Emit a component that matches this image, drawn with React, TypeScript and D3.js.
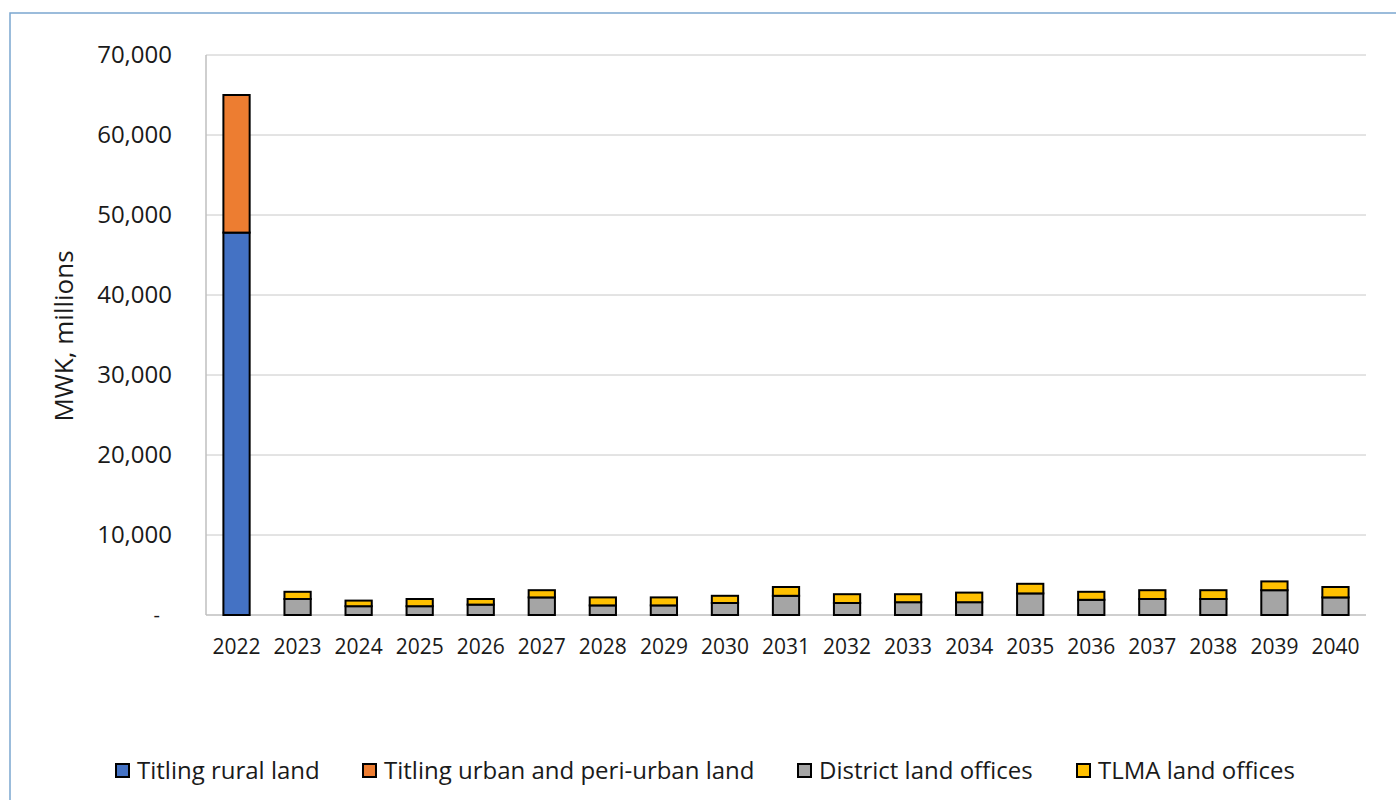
import React from "react";
import * as d3 from "d3";

const years = ["2022","2023","2024","2025","2026","2027","2028","2029","2030","2031","2032","2033","2034","2035","2036","2037","2038","2039","2040"];
const rural = [47800,0,0,0,0,0,0,0,0,0,0,0,0,0,0,0,0,0,0];
const urban = [17200,0,0,0,0,0,0,0,0,0,0,0,0,0,0,0,0,0,0];
const district = [0,2000,1100,1100,1300,2200,1200,1200,1500,2400,1500,1600,1600,2700,1900,2000,2000,3100,2200];
const tlma = [0,900,700,900,700,900,1000,1000,900,1100,1100,1000,1200,1200,1000,1100,1100,1100,1300];
const seriesNames = ["Titling rural land","Titling urban and peri-urban land","District land offices","TLMA land offices"];
const seriesColors = ["#4472C4","#ED7D31","#A5A5A5","#FFC000"];
const yTicks = [0,10000,20000,30000,40000,50000,60000,70000];

const W = 1396, H = 800;
const left = 206, right = 1366, top = 55, bottom = 615;
const font = "'Open Sans', 'Liberation Sans', sans-serif";

export default function App() {
  const x = d3.scaleBand<string>().domain(years).range([left, right]).paddingInner(0.57).paddingOuter(0.285);
  const y = d3.scaleLinear().domain([0, 70000]).range([bottom, top]);
  const rows = years.map((yr, i) => ({ yr, s0: rural[i], s1: urban[i], s2: district[i], s3: tlma[i] }));
  const stack = d3.stack<any>().keys(["s0","s1","s2","s3"]);
  const layers = stack(rows);
  const fmt = d3.format(",");
  const legendX = [116, 363, 798, 1077];
  return (
    <div style={{ position: "absolute", left: 0, top: 0 }}>
      <svg width={W} height={H} style={{ display: "block", fontFamily: font }}>
        <rect x={0} y={0} width={W} height={H} fill="#fff" />
        <rect x={10} y={13} width={W} height={H} fill="none" stroke="#7BA7CF" strokeWidth={1.5} />
        {yTicks.map(t => (
          <g key={t}>
            {t > 0 && <line x1={left} x2={right} y1={y(t)} y2={y(t)} stroke="#C8C8C8" strokeWidth={1} />}
            <text x={t === 0 ? 160 : 172} y={y(t)} dy="0.35em" textAnchor="end" fontSize={t === 0 ? 20 : 24} fill="#1a1a1a">
              {t === 0 ? "-" : fmt(t)}
            </text>
          </g>
        ))}
        <line x1={left} x2={left} y1={top} y2={bottom} stroke="#BFBFBF" strokeWidth={1.5} />
        <line x1={left} x2={right} y1={bottom} y2={bottom} stroke="#BFBFBF" strokeWidth={1.5} />
        {layers.map((layer, li) => (
          <g key={li}>
            {layer.map((d, i) => {
              const h = y(d[0]) - y(d[1]);
              if (h <= 0) return null;
              return (
                <rect key={i} x={x(years[i])} y={y(d[1])} width={x.bandwidth()} height={h}
                  fill={seriesColors[li]} stroke="#000" strokeWidth={2} />
              );
            })}
          </g>
        ))}
        {years.map(yr => (
          <text key={yr} x={(x(yr) as number) + x.bandwidth() / 2} y={647} dy="0.35em" textAnchor="middle" fontSize={21} fill="#1a1a1a">{yr}</text>
        ))}
        <text transform={`translate(64,336) rotate(-90)`} textAnchor="middle" dy="0.35em" fontSize={26} fill="#1a1a1a">MWK, millions</text>
        {seriesNames.map((n, i) => (
          <g key={n}>
            <rect x={legendX[i]} y={764} width={13} height={13} fill={seriesColors[i]} stroke="#000" strokeWidth={2} />
            <text x={legendX[i] + 21} y={771} dy="0.35em" fontSize={24} fill="#1a1a1a">{n}</text>
          </g>
        ))}
      </svg>
    </div>
  );
}
